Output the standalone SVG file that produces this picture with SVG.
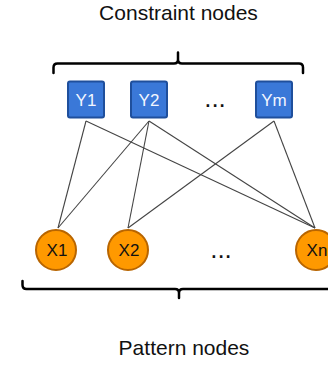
<svg xmlns="http://www.w3.org/2000/svg" width="328" height="365" viewBox="0 0 328 365">
<style>
.title{font-family:"Liberation Sans",Arial,sans-serif;font-size:21px;fill:#111;text-anchor:middle}
.lbl{font-family:"Liberation Sans",Arial,sans-serif;font-size:17px;text-anchor:middle}
.ybox{fill:#3a78d8;stroke:#1f4f9c;stroke-width:2}
.ytxt{fill:#f2f6ff}
.xc{fill:#ff9900;stroke:#b86500;stroke-width:2}
.xtxt{fill:#111}
.edge{stroke:#444;stroke-width:1.1;fill:none}
.brace{stroke:#000;stroke-width:2.5;fill:none;stroke-linecap:round;stroke-linejoin:round}
.dots{font-family:"Liberation Sans",Arial,sans-serif;font-size:26px;fill:#111;text-anchor:middle}
</style>
<rect width="328" height="365" fill="#fff"/>
<text class="title" x="178.5" y="20">Constraint nodes</text>
<text class="title" x="184" y="355">Pattern nodes</text>
<path class="brace" d="M53.5,73 L53.5,67.5 Q53.5,63.5 57.5,63.5 L174,63.5 Q178,63.5 178,59.5 L178,52.5 M178,59.5 Q178,63.5 182,63.5 L299,63.5 Q303,63.5 303,67.5 L303,73"/>
<path class="brace" d="M22.5,281 L22.5,285 Q22.5,289 26.5,289 L175,289 Q179,289 179,293 L179,298 M179,293 Q179,289 183,289 L332,289 Q336,289 336,285 L336,281"/>
<g id="edges">
<line class="edge" x1="86" y1="121" x2="58" y2="228"/>
<line class="edge" x1="86" y1="121" x2="315" y2="228"/>
<line class="edge" x1="149" y1="121" x2="58" y2="228"/>
<line class="edge" x1="149" y1="121" x2="128" y2="228"/>
<line class="edge" x1="149" y1="121" x2="315" y2="228"/>
<line class="edge" x1="274" y1="121" x2="128" y2="228"/>
<line class="edge" x1="274" y1="121" x2="315" y2="228"/>
</g>
<g id="Y1"><rect class="ybox" x="68" y="81.5" width="36" height="36" rx="2"/><text class="lbl ytxt" x="86" y="106">Y1</text></g>
<g id="Y2"><rect class="ybox" x="131" y="81.5" width="36" height="36" rx="2"/><text class="lbl ytxt" x="149" y="106">Y2</text></g>
<g id="dotsY"><text class="dots" x="215" y="107">...</text></g>
<g id="Ym"><rect class="ybox" x="256" y="81.5" width="36" height="36" rx="2"/><text class="lbl ytxt" x="274" y="106">Ym</text></g>
<g id="X1"><circle class="xc" cx="56" cy="250" r="20"/><text class="lbl xtxt" x="57" y="255.5">X1</text></g>
<g id="X2"><circle class="xc" cx="128" cy="250" r="20"/><text class="lbl xtxt" x="129" y="255.5">X2</text></g>
<g id="dotsX"><text class="dots" x="221" y="258">...</text></g>
<g id="Xn"><circle class="xc" cx="316" cy="250" r="20"/><text class="lbl xtxt" x="317" y="255.5">Xn</text></g>
</svg>
